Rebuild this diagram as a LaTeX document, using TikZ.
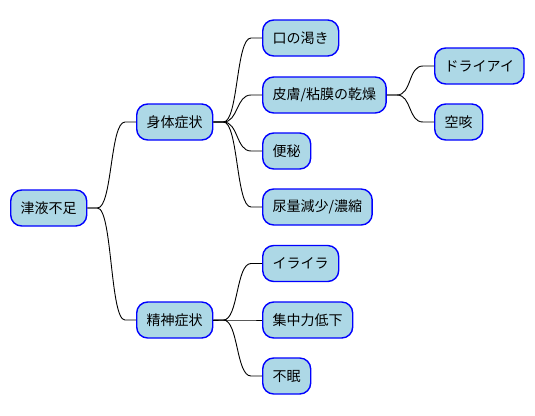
\documentclass[tikz,border=0pt]{standalone}
\usepackage{fontspec}
\setmainfont{Noto Sans CJK JP}
\definecolor{lightblue}{HTML}{ADD8E6}
\tikzset{
  topic/.style={draw=blue, fill=lightblue, line width=1.4pt, rounded corners=11pt,
    inner xsep=10pt, minimum height=36pt, anchor=west,
    font=\fontsize{14}{16}\selectfont},
  branch/.style={every edge/.style={draw, black, line width=0.9pt,
    to path={-- ++(10pt,0) .. controls +(15pt,0) and +(-15pt,0) .. ([xshift=-11pt]\tikztotarget) -- (\tikztotarget)}}}
}

\begin{document}
\begin{tikzpicture}[x=1pt, y=-1pt]
      \useasboundingbox (0,0) rectangle (535,415);
      \node [topic] (root) at (10,208) {津液不足};
      \node [topic] (body) at (136,122) {身体症状};
      \node [topic] (mind) at (136,320) {精神症状};
      \node [topic] (thirst) at (262,38) {口の渇き};
      \node [topic] (dryness) at (262,95) {皮膚/粘膜の乾燥};
      \node [topic] (constip) at (262,151) {便秘};
      \node [topic] (urine) at (262,207) {尿量減少/濃縮};
      \node [topic] (irritable) at (262,263.5) {イライラ};
      \node [topic] (focus) at (262,320) {集中力低下};
      \node [topic] (insomnia) at (262,376) {不眠};
      \node [topic] (dryeye) at (434,66) {ドライアイ};
      \node [topic] (cough) at (434,122) {空咳};
      \path [branch]
      (root.east) edge (body.west)
      (root.east) edge (mind.west)
      (body.east) edge (thirst.west)
      (body.east) edge (dryness.west)
      (body.east) edge (constip.west)
      (body.east) edge (urine.west)
      (mind.east) edge (irritable.west)
      (mind.east) edge (focus.west)
      (mind.east) edge (insomnia.west)
      (dryness.east) edge (dryeye.west)
      (dryness.east) edge (cough.west);
    \end{tikzpicture}
\end{document}
